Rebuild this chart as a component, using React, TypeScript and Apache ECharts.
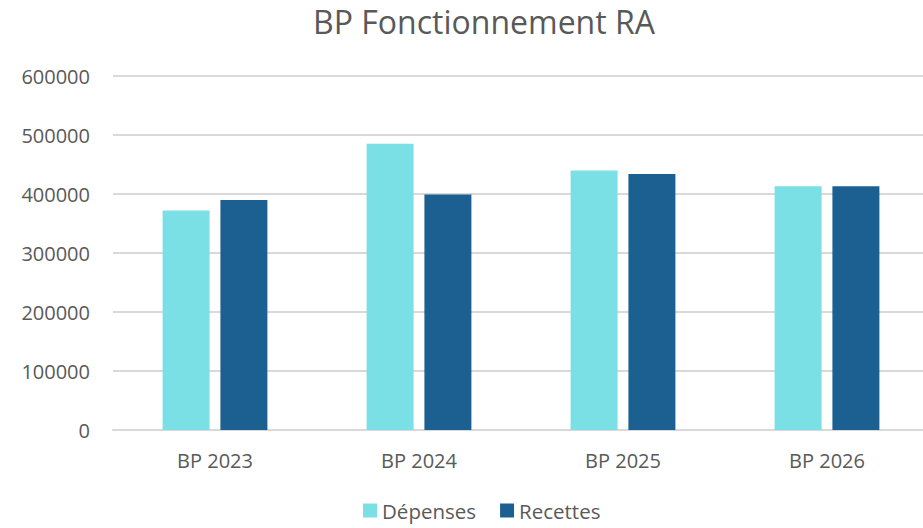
import React, { useEffect, useRef } from "react";
import * as echarts from "echarts";

const categories = ["BP 2023", "BP 2024", "BP 2025", "BP 2026"];
const depenses = [372000, 485000, 440000, 413000];
const recettes = [390000, 399000, 434000, 413000];
const yTicks = [0, 100000, 200000, 300000, 400000, 500000, 600000];

export default function App() {
  const ref = useRef<HTMLDivElement>(null);
  useEffect(() => {
    if (!ref.current) return;
    const chart = echarts.init(ref.current, undefined, { renderer: "svg" });
    const font = "Open Sans";
    chart.setOption({
      animation: false,
      backgroundColor: "#ffffff",
      textStyle: { fontFamily: font },
      title: {
        text: "BP Fonctionnement RA",
        left: 479,
        top: 0,
        textAlign: "center",
        textStyle: { fontFamily: font, fontSize: 32, fontWeight: "normal", color: "#595959" },
      },
      legend: {
        bottom: 2,
        left: 358,
        itemWidth: 14,
        itemHeight: 14,
        itemGap: 24,
        icon: "rect",
        textStyle: { fontFamily: font, fontSize: 20.5, color: "#595959" },
        data: ["Dépenses", "Recettes"],
      },
      grid: { left: 113, top: 76, right: 0, height: 354 },
      xAxis: {
        type: "category",
        data: categories,
        axisLine: { lineStyle: { color: "#d9d9d9", width: 2 } },
        axisTick: { show: false },
        axisLabel: { fontFamily: font, fontSize: 20, color: "#595959", margin: 20 },
      },
      yAxis: {
        type: "value",
        min: yTicks[0],
        max: yTicks[yTicks.length - 1],
        interval: 100000,
        axisLine: { show: false },
        axisTick: { show: false },
        splitLine: { lineStyle: { color: "#d9d9d9", width: 2 } },
        axisLabel: {
          fontFamily: font,
          fontSize: 20,
          color: "#595959",
          margin: 23,
          formatter: (v: number) => String(v),
        },
      },
      series: [
        {
          name: "Dépenses",
          type: "bar",
          data: depenses,
          barWidth: 47,
          barGap: "23%",
          itemStyle: { color: "#7ae0e5" },
        },
        {
          name: "Recettes",
          type: "bar",
          data: recettes,
          barWidth: 47,
          barGap: "23%",
          itemStyle: { color: "#1c6091" },
        },
      ],
    });
    return () => chart.dispose();
  }, []);
  return (
    <div style={{ width: 923, height: 528, position: "absolute", left: 0, top: 0, overflow: "hidden" }}>
      <div ref={ref} style={{ width: 929, height: 528 }} />
    </div>
  );
}
